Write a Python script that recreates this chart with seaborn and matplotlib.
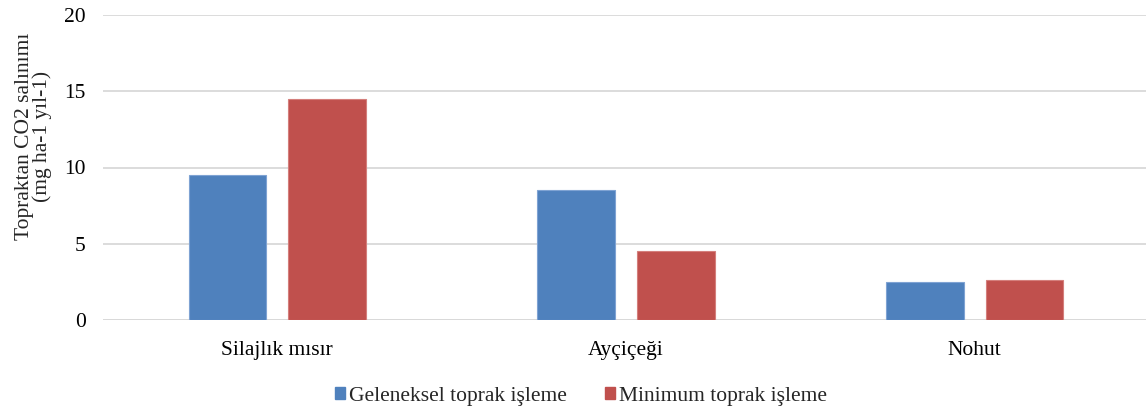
import matplotlib
matplotlib.use("Agg")
import matplotlib.pyplot as plt
from matplotlib.patches import Patch
import seaborn as sns
import pandas as pd

# Soil CO2 emission by crop and tillage practice
crops = ["Silajlık mısır", "Ayçiçeği", "Nohut"]
series_names = ["Geleneksel toprak işleme", "Minimum toprak işleme"]
geleneksel = [9.5, 8.5, 2.5]
minimum = [14.5, 4.5, 2.6]
y_ticks = [0, 5, 10, 15, 20]

colors = ["#4F81BD", "#C0504D"]
edge_colors = ["#7FA3D3", "#D47F7C"]

df = pd.DataFrame({
    "Ürün": crops * 2,
    "Uygulama": [series_names[0]] * len(crops) + [series_names[1]] * len(crops),
    "Değer": geleneksel + minimum,
})

sns.set_theme(style="white")
plt.rcParams["font.family"] = ["Liberation Serif", "DejaVu Serif"]
FS = 15.5

fig = plt.figure(figsize=(11.46, 4.12), dpi=100)
ax = fig.add_axes([103 / 1146, 92 / 412, 1046 / 1146, 305 / 412])

sns.barplot(data=df, x="Ürün", y="Değer", hue="Uygulama",
            palette=colors, width=0.572, gap=0.22, ax=ax, legend=False,
            saturation=1)

for i, cont in enumerate(ax.containers):
    for bar in cont:
        bar.set_edgecolor(edge_colors[i])
        bar.set_linewidth(0.8)

ax.set_ylim(0, 20)
ax.set_xlim(-0.5, 2.5)
ax.set_yticks(y_ticks)
ax.set_yticklabels([str(t) for t in y_ticks])
ax.yaxis.grid(True, color="#D9D9D9", linewidth=1.3)
ax.set_axisbelow(True)
for s in ["top", "right", "left", "bottom"]:
    ax.spines[s].set_visible(False)
ax.axhline(0, color="#D9D9D9", linewidth=1.3, zorder=0)

ax.tick_params(axis="y", length=0, pad=12.5, labelsize=FS, colors="#000000")
ax.tick_params(axis="x", length=0, pad=15, labelsize=FS, colors="#000000")
ax.set_xlabel("")
ax.set_ylabel("Topraktan CO2 salınımı\n(mg ha-1 yıl-1)", fontsize=FS,
              va="center", ha="center", multialignment="center",
              linespacing=0.87)
ax.yaxis.set_label_coords(-0.0665, 0.603)

handles = [Patch(facecolor=c, edgecolor=c) for c in colors]
fig.legend(handles, series_names, loc="center",
           bbox_to_anchor=(581 / 1146, 16 / 412), ncol=2, frameon=False,
           fontsize=FS, handlelength=0.47, handleheight=0.47,
           handletextpad=0.2, columnspacing=1.75)

fig.savefig("out.png", dpi=100)
